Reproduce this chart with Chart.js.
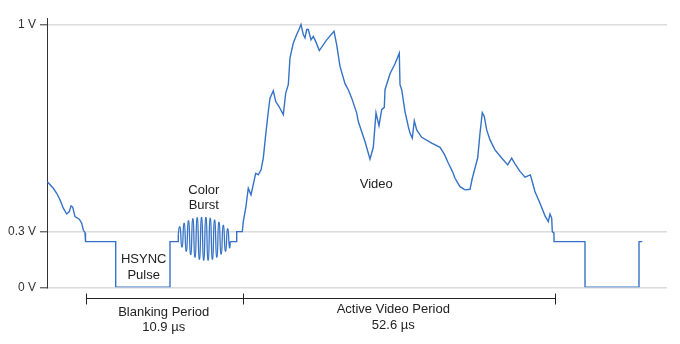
<!DOCTYPE html>
<html>
<head>
<meta charset="utf-8">
<script src="https://cdn.jsdelivr.net/npm/chart.js@4/dist/chart.umd.min.js"></script>
<style>
  html, body { margin: 0; padding: 0; background: #ffffff; }
  #wrap { width: 680px; height: 344px; position: relative; }
</style>
</head>
<body>
<div id="wrap"><canvas id="c"></canvas></div>
<script>
// ---- Data (time index, signal level where 0 = 0 V, 1 = 1 V position) ----
const waveT = [0.3, 6.3, 9.7, 13, 16.3, 19.7, 22.3, 24, 25.7, 28, 32.3, 34.7, 36.3, 38, 38.5,
  68.7, 68.7, 123, 123, 131.3, 131.3,
  null,
  183.2, 189.7, 189.7, 195.3,
  196.3, 198.7, 201.3, 204, 208.7, 211.3, 214, 216.3, 218.7, 221.3, 223, 226.3, 228.7, 232, 236.3, 238.7, 241.3,
  243, 246.3, 249.7, 252, 254, 256.3, 258, 259.7, 261.3, 264, 266.3, 268.7, 272.3, 279.7, 287, 289.7, 293, 298,
  301.3, 304.7, 309.7, 311.3, 316.3, 318, 323, 326.3, 329, 332, 334.7, 337.3, 338, 343, 348, 352.3, 353, 354.7,
  358, 361.3, 363, 365.3, 367.3, 369.7, 374.7, 384.7, 393, 397.3, 401.3, 406, 408, 413, 418, 423, 425.3, 428,
  430.7, 433, 435.3, 437.3, 439.7, 443, 448, 454.7, 460.7, 464.7, 468, 473, 478, 483.3, 485.3, 488, 493, 498,
  501.3, 503, 504.7, 505.3, 507, 507, 538, 538, 592, 592, 595.3];
const waveV = [0.402, 0.377, 0.358, 0.333, 0.301, 0.279, 0.288, 0.310, 0.305, 0.269, 0.259, 0.244, 0.218, 0.208, 0.174,
  0.174, 0, 0, 0.174, 0.174, 0.202,
  null,
  0.174, 0.174, 0.212, 0.212,
  0.250, 0.301, 0.377, 0.352, 0.434, 0.428, 0.447, 0.492, 0.580, 0.669, 0.720, 0.748, 0.707, 0.688, 0.657, 0.739, 0.771,
  0.873, 0.930, 0.962, 0.981, 1.000, 0.962, 0.949, 0.981, 0.981, 0.942, 0.955, 0.936, 0.901, 0.942, 0.974, 0.923, 0.841, 0.775,
  0.752, 0.720, 0.663, 0.631, 0.574, 0.555, 0.488, 0.533, 0.664, 0.615, 0.676, 0.685, 0.752, 0.813, 0.851, 0.891, 0.771, 0.752,
  0.669, 0.612, 0.587, 0.568, 0.634, 0.599, 0.571, 0.549, 0.533, 0.507, 0.473, 0.436, 0.415, 0.383, 0.371, 0.373, 0.415, 0.454,
  0.492, 0.587, 0.665, 0.650, 0.599, 0.561, 0.523, 0.492, 0.466, 0.492, 0.470, 0.441, 0.419, 0.428, 0.402, 0.364, 0.320, 0.272,
  0.250, 0.279, 0.263, 0.212, 0.206, 0.174, 0.174, 0, 0, 0.174, 0.174];

// Colour burst: rounded crests and troughs
const burstT = [131.3,
  132.3, 133.3, 134.5, 135.5, 136.65, 137.65, 138.8, 139.8, 141.0, 142.0, 143.2, 144.2,
  145.35, 146.35, 147.5, 148.5, 149.7, 150.7, 151.9, 152.9, 154.05, 155.05, 156.2, 157.2,
  158.4, 159.4, 160.6, 161.6, 162.75, 163.75, 164.9, 165.9, 167.1, 168.1, 169.3, 170.3,
  171.45, 172.45, 173.6, 174.6, 175.8, 176.8, 178.0, 179.0, 180.15, 181.15, 182.3, 182.9,
  183.2];
const burstV = [0.202,
  0.230, 0.230, 0.154, 0.154, 0.243, 0.243, 0.138, 0.138, 0.253, 0.253, 0.125, 0.125,
  0.260, 0.260, 0.115, 0.115, 0.264, 0.264, 0.107, 0.107, 0.265, 0.265, 0.104, 0.104,
  0.265, 0.265, 0.104, 0.104, 0.262, 0.262, 0.107, 0.107, 0.256, 0.256, 0.115, 0.115,
  0.247, 0.247, 0.127, 0.127, 0.236, 0.236, 0.138, 0.138, 0.222, 0.222, 0.150, 0.150,
  0.174];

// Y axis ticks
const tickValues = [0, 0.212, 1];
const tickLabels = ['0 V', '0.3 V', '1 V'];

// Text labels inside the plot
const noteText = ['HSYNC', 'Pulse', 'Color', 'Burst', 'Video'];
const noteT = [96.7, 96.7, 156.8, 156.8, 329.3];
const noteV = [0.106, 0.047, 0.368, 0.311, 0.392];

// Period brackets below the axis
const bracketT = [38.7, 195.7, 508];
const periodText = [['Blanking Period', '10.9 µs'], ['Active Video Period', '52.6 µs']];
const periodT = [116.7, 346.3];
const periodV = [[-0.094, -0.152], [-0.083, -0.144]];
const bracketV = -0.041;

const toPts = (ts, vs) => ts.map((t, i) => ({ x: t, y: vs[i] }));

const FONT = "'Liberation Sans', Arial, sans-serif";
const LINE = '#3572c6';

const annotate = {
  id: 'annotate',
  afterDraw(chart) {
    const ctx = chart.ctx;
    const xs = chart.scales.x, ys = chart.scales.y;
    ctx.save();
    ctx.fillStyle = '#222';
    ctx.font = '13px ' + FONT;
    ctx.textAlign = 'center';
    ctx.textBaseline = 'middle';
    noteText.forEach((t, i) => {
      ctx.fillText(t, xs.getPixelForValue(noteT[i]), ys.getPixelForValue(noteV[i]));
    });
    const by = Math.round(ys.getPixelForValue(bracketV)) + 0.5;
    const bx = bracketT.map(t => Math.round(xs.getPixelForValue(t)) + 0.5);
    ctx.strokeStyle = '#222';
    ctx.lineWidth = 1;
    ctx.beginPath();
    ctx.moveTo(bx[0], by);
    ctx.lineTo(bx[bx.length - 1], by);
    bx.forEach(x => { ctx.moveTo(x, by - 5); ctx.lineTo(x, by + 6); });
    ctx.stroke();
    periodText.forEach((lines, i) => {
      lines.forEach((l, j) => {
        ctx.fillText(l, xs.getPixelForValue(periodT[i]), ys.getPixelForValue(periodV[i][j]));
      });
    });
    ctx.restore();
  }
};

new Chart(document.getElementById('c'), {
  type: 'line',
  data: {
    datasets: [
      {
        data: toPts(waveT, waveV),
        borderColor: LINE,
        borderWidth: 1.4,
        pointRadius: 0,
        tension: 0,
        spanGaps: false,
        fill: false
      },
      {
        data: toPts(burstT, burstV),
        borderColor: LINE,
        borderWidth: 1.3,
        pointRadius: 0,
        cubicInterpolationMode: 'monotone',
        fill: false
      }
    ]
  },
  options: {
    responsive: true,
    maintainAspectRatio: false,
    animation: false,
    devicePixelRatio: 1,
    layout: { padding: { top: 18, right: 13, bottom: 56.7, left: 0 } },
    plugins: { legend: { display: false }, tooltip: { enabled: false } },
    scales: {
      x: { type: 'linear', display: false, min: 0, max: 620 },
      y: {
        type: 'linear',
        min: 0,
        max: 1.025,
        afterBuildTicks(scale) { scale.ticks = tickValues.map(v => ({ value: v })); },
        afterFit(scale) { scale.width = 47; },
        ticks: {
          autoSkip: false,
          padding: 4,
          color: '#333',
          font: { family: FONT, size: 12 },
          callback: (v, i) => tickLabels[i]
        },
        grid: {
          color: '#dcdcdc',
          lineWidth: 1.6,
          tickColor: '#333',
          tickWidth: 1,
          tickLength: 7
        },
        border: { display: true, color: '#333', width: 1 }
      }
    }
  },
  plugins: [annotate]
});
</script>
</body>
</html>
